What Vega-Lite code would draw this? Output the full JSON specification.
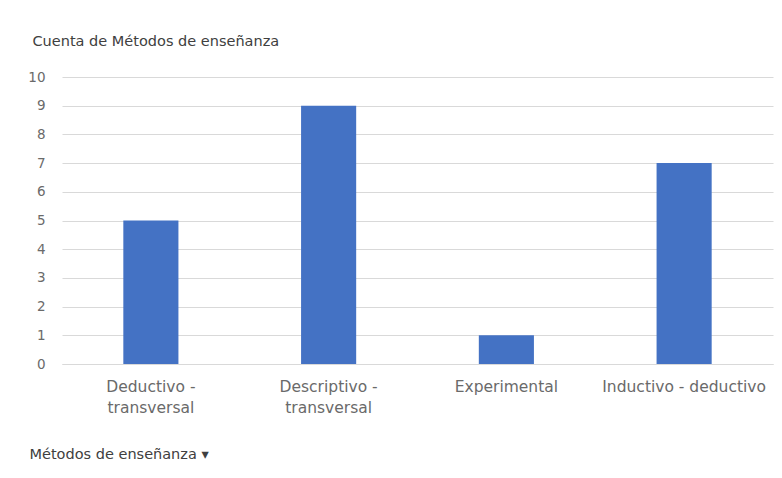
{
  "$schema": "https://vega.github.io/schema/vega-lite/v6.json",
  "width": 711,
  "height": 287,
  "autosize": {"type": "none"},
  "padding": {"left": 62, "top": 77, "right": 9, "bottom": 114},
  "background": "white",
  "config": {
    "view": {"stroke": null},
    "font": "DejaVu Sans",
    "axis": {"labelFont": "DejaVu Sans", "titleFont": "DejaVu Sans"}
  },
  "data": {
    "values": [
      {"metodo": "Deductivo - transversal", "cuenta": 5},
      {"metodo": "Descriptivo - transversal", "cuenta": 9},
      {"metodo": "Experimental", "cuenta": 1},
      {"metodo": "Inductivo - deductivo", "cuenta": 7}
    ]
  },
  "mark": {"type": "bar", "color": "#4472C4"},
  "encoding": {
    "x": {
      "field": "metodo",
      "type": "nominal",
      "sort": null,
      "scale": {"paddingInner": 0.69, "paddingOuter": 0.345},
      "axis": {
        "title": "Métodos de enseñanza    ▾",
        "titleX": -33,
        "titleY": 90,
        "titleAlign": "left",
        "titleBaseline": "middle",
        "titleAnchor": "start",
        "titleFontSize": 14.5,
        "titleFontWeight": "normal",
        "titleColor": "#404040",
        "labelAngle": 0,
        "labelFontSize": 15.5,
        "labelColor": "#6a6a6a",
        "labelPadding": 15,
        "labelLineHeight": 21,
        "labelExpr": "datum.label == 'Deductivo - transversal' ? ['Deductivo -', 'transversal'] : datum.label == 'Descriptivo - transversal' ? ['Descriptivo -', 'transversal'] : datum.label",
        "ticks": false,
        "domainColor": "#d9d9d9",
        "domainWidth": 1
      }
    },
    "y": {
      "field": "cuenta",
      "type": "quantitative",
      "scale": {"domain": [0, 10], "nice": false},
      "axis": {
        "title": "Cuenta de Métodos de enseñanza",
        "titleAngle": 0,
        "titleX": -30,
        "titleY": -36,
        "titleAlign": "left",
        "titleBaseline": "middle",
        "titleFontSize": 14.5,
        "titleFontWeight": "normal",
        "titleColor": "#404040",
        "values": [0,1,2,3,4,5,6,7,8,9,10],
        "labelOverlap": false,
        "labelFontSize": 13.5,
        "labelColor": "#6a6a6a",
        "labelPadding": 17,
        "ticks": false,
        "domain": false,
        "gridColor": "#d9d9d9"
      }
    }
  }
}
